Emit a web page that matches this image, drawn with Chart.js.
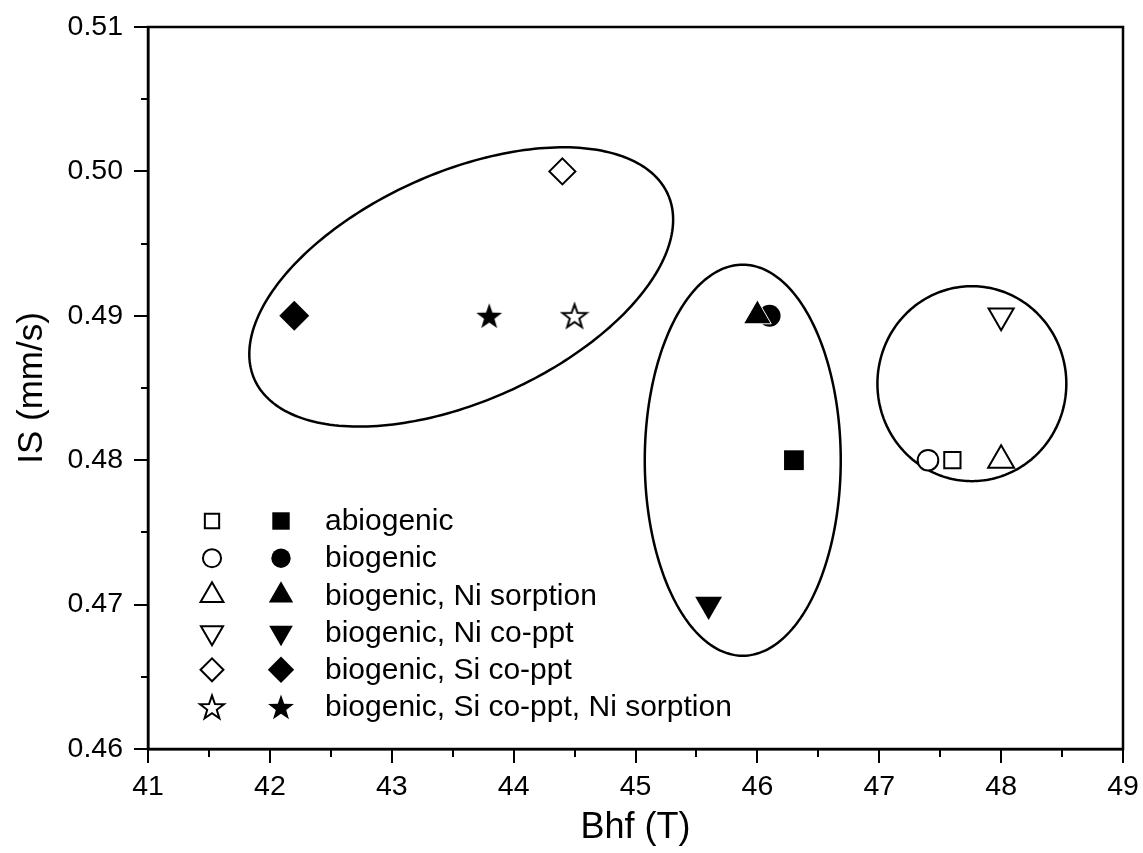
<!DOCTYPE html>
<html>
<head>
<meta charset="utf-8">
<script src="https://cdn.jsdelivr.net/npm/chart.js@4.4.1/dist/chart.umd.min.js"></script>
<style>
  html, body { margin: 0; padding: 0; background: #fff; }
  #wrap { width: 1143px; height: 853px; }
</style>
</head>
<body>
<div id="wrap"><canvas id="chart"></canvas></div>
<script>
"use strict";

// sample groups, open symbol = first point, filled symbol = second point
var seriesNames = ["abiogenic", "biogenic", "biogenic, Ni sorption", "biogenic, Ni co-ppt",
  "biogenic, Si co-ppt", "biogenic, Si co-ppt, Ni sorption"];
var openBhf = [47.6, 47.4, 48.0, 48.0, 44.4, 44.5];
var openIS = [0.48, 0.48, 0.48, 0.49, 0.50, 0.49];
var filledBhf = [46.3, 46.1, 46.0, 45.6, 42.2, 43.8];
var filledIS = [0.48, 0.49, 0.49, 0.47, 0.49, 0.49];

var bhfTicks = [41, 42, 43, 44, 45, 46, 47, 48, 49];
var isTicks = [0.46, 0.47, 0.48, 0.49, 0.50, 0.51];

// grouping ellipses: centre and two conjugate half axes, in data units
var ellipseBhf = [43.57, 45.88, 47.76];
var ellipseIS = [0.4920, 0.4800, 0.4853];
var ellipseU = [[1.696, 0.00641], [0.804, 0], [0.775, 0]];
var ellipseV = [[0.3835, -0.00724], [0, 0.01354], [0, 0.00675]];

var FONT = "'Liberation Sans', Arial, sans-serif";

function makeStar(filled) {
  var c = document.createElement("canvas");
  c.width = 30; c.height = 30;
  var g = c.getContext("2d");
  var R = filled ? 13.6 : 12.6;
  g.beginPath();
  for (var i = 0; i < 10; i++) {
    var r = i % 2 ? R * 0.4 : R;
    var a = -Math.PI / 2 + i * Math.PI / 5;
    var px = 15 + r * Math.cos(a), py = 16.2 + r * Math.sin(a);
    if (i) g.lineTo(px, py); else g.moveTo(px, py);
  }
  g.closePath();
  g.fillStyle = filled ? "#000" : "#fff";
  g.fill();
  if (!filled) { g.lineWidth = 2; g.strokeStyle = "#000"; g.stroke(); }
  return c;
}

var markerStyles = [
  ["rect", "rect"], ["circle", "circle"], ["triangle", "triangle"], ["triangle", "triangle"],
  ["rectRot", "rectRot"], [makeStar(false), makeStar(true)]
];
var markerRadius = [[11.5, 14], [10.3, 11], [15, 16], [14.5, 15.5], [13, 15], [15, 15]];
var markerRotation = [0, 0, 0, 180, 0, 0];

var datasets = seriesNames.map(function (name, i) {
  return {
    label: name,
    data: [{ x: openBhf[i], y: openIS[i] }, { x: filledBhf[i], y: filledIS[i] }],
    pointStyle: markerStyles[i],
    pointRadius: markerRadius[i],
    pointRotation: markerRotation[i],
    backgroundColor: ["#fff", "#000"],
    borderColor: i === 2 ? ["#000", "#fff"] : "#000",
    borderWidth: i === 2 ? [2, 1] : [2, 0],
    showLine: false,
    order: i < 2 ? 10 - i : 0
  };
});

function near(list, v) {
  for (var i = 0; i < list.length; i++) if (Math.abs(list[i] - v) < 1e-6) return true;
  return false;
}

var decorPlugin = {
  id: "decor",
  beforeDatasetsDraw: function (chart) {
    var ctx = chart.ctx, a = chart.chartArea, xs = chart.scales.x, ys = chart.scales.y;
    ctx.save();
    ctx.strokeStyle = "#000";
    ctx.lineWidth = 2.5;
    for (var i = 0; i < ellipseBhf.length; i++) {
      ctx.beginPath();
      for (var k = 0; k <= 240; k++) {
        var t = k / 240 * 2 * Math.PI;
        var bx = ellipseBhf[i] + ellipseU[i][0] * Math.cos(t) + ellipseV[i][0] * Math.sin(t);
        var by = ellipseIS[i] + ellipseU[i][1] * Math.cos(t) + ellipseV[i][1] * Math.sin(t);
        var px = xs.getPixelForValue(bx), py = ys.getPixelForValue(by);
        if (k) ctx.lineTo(px, py); else ctx.moveTo(px, py);
      }
      ctx.closePath();
      ctx.stroke();
    }
    // tick marks, major and minor, pointing outwards
    ctx.lineWidth = 2;
    ctx.beginPath();
    xs.ticks.forEach(function (tk) {
      var len = near(bhfTicks, tk.value) ? 14 : 8;
      var px = Math.round(xs.getPixelForValue(tk.value));
      ctx.moveTo(px, a.bottom); ctx.lineTo(px, a.bottom + len);
    });
    ys.ticks.forEach(function (tk) {
      var len = near(isTicks, tk.value) ? 14 : 7;
      var py = Math.round(ys.getPixelForValue(tk.value));
      ctx.moveTo(a.left, py); ctx.lineTo(a.left - len, py);
    });
    ctx.stroke();
    ctx.restore();
  },
  afterDraw: function (chart) {
    var ctx = chart.ctx, a = chart.chartArea;
    ctx.save();
    ctx.strokeStyle = "#000";
    ctx.lineWidth = 2.5;
    ctx.strokeRect(a.left, a.top, a.right - a.left, a.bottom - a.top);

    // legend: open symbol, filled symbol, label
    ctx.font = "30px " + FONT;
    ctx.textBaseline = "middle";
    ctx.textAlign = "left";
    chart.data.datasets.forEach(function (ds, i) {
      var y = a.top + 494 + i * 37.2;
      for (var j = 0; j < 2; j++) {
        ctx.fillStyle = ds.backgroundColor[j];
        ctx.strokeStyle = "#000";
        ctx.lineWidth = 2;
        Chart.helpers.drawPoint(ctx, {
          pointStyle: ds.pointStyle[j],
          rotation: ds.pointRotation,
          radius: ds.pointRadius[j] * 0.88,
          borderWidth: j ? 0 : 2
        }, a.left + (j ? 133 : 64), y);
      }
      ctx.fillStyle = "#000";
      ctx.fillText(ds.label, a.left + 177, y + 1);
    });
    ctx.restore();
  }
};

new Chart(document.getElementById("chart"), {
  type: "scatter",
  data: { datasets: datasets },
  plugins: [decorPlugin],
  options: {
    responsive: true,
    maintainAspectRatio: false,
    animation: false,
    layout: { padding: { left: 0, top: 27, right: 20, bottom: 0 } },
    plugins: { legend: { display: false }, tooltip: { enabled: false } },
    scales: {
      x: {
        type: "linear",
        min: 41,
        max: 49,
        afterFit: function (s) { s.height = 104; s.paddingLeft = 0; s.paddingRight = 0; },
        border: { display: true, color: "#000", width: 2.5 },
        grid: { drawOnChartArea: false, drawTicks: false },
        ticks: {
          stepSize: 0.5,
          autoSkip: false,
          maxRotation: 0,
          padding: 21,
          color: "#000",
          font: { family: FONT, size: 28.5 },
          callback: function (v) { return near(bhfTicks, v) ? String(Math.round(v)) : ""; }
        },
        title: {
          display: true,
          text: "Bhf (T)",
          color: "#000",
          font: { family: FONT, size: 36 },
          padding: { top: 0, bottom: 3 }
        }
      },
      y: {
        type: "linear",
        min: 0.46,
        max: 0.51,
        afterFit: function (s) { s.width = 148; s.paddingTop = 0; s.paddingBottom = 0; },
        border: { display: true, color: "#000", width: 2.5 },
        grid: { drawOnChartArea: false, drawTicks: false },
        ticks: {
          stepSize: 0.005,
          autoSkip: false,
          padding: 25,
          color: "#000",
          font: { family: FONT, size: 28.5 },
          callback: function (v) { return near(isTicks, v) ? v.toFixed(2) : ""; }
        },
        title: {
          display: true,
          text: "IS (mm/s)",
          color: "#000",
          font: { family: FONT, size: 35 },
          padding: { top: 11, bottom: 0 }
        }
      }
    }
  }
});
</script>
</body>
</html>
